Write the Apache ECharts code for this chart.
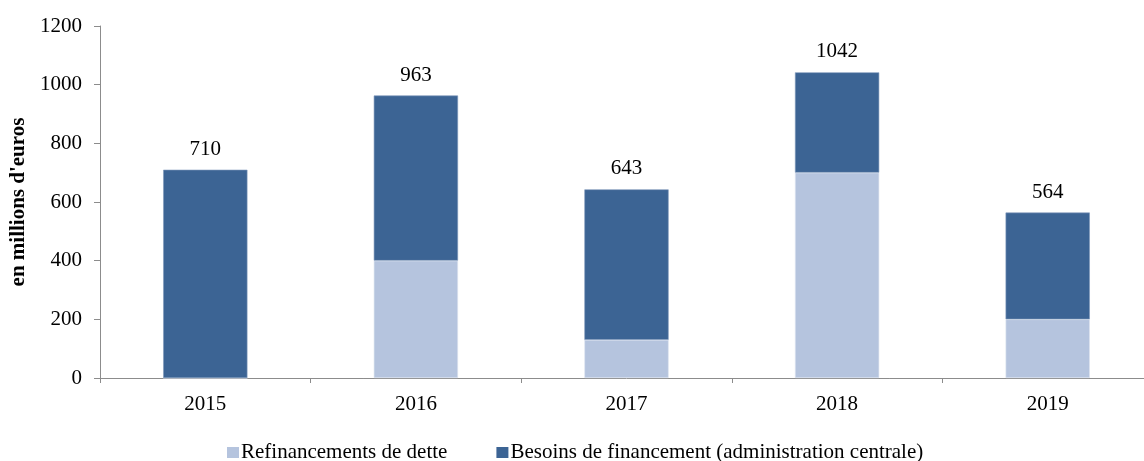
<!DOCTYPE html>
<html>
<head>
<meta charset="utf-8">
<script src="https://cdn.jsdelivr.net/npm/echarts@6/dist/echarts.min.js"></script>
<style>
  html, body { margin: 0; padding: 0; background: #fff; overflow: hidden; }
  #chart { width: 1153px; height: 461px; }
</style>
</head>
<body>
<div id="chart"></div>
<script>
// Années
const years = ['2015', '2016', '2017', '2018', '2019'];
// Refinancements de dette (millions d'euros)
const refinancements = [0, 400, 130, 700, 200];
// Besoins de financement de l'administration centrale (millions d'euros)
const besoins = [710, 563, 513, 342, 364];
// Graduations de l'axe vertical
const yTicks = [0, 200, 400, 600, 800, 1000, 1200];

const totals = years.map((_, i) => refinancements[i] + besoins[i]);

const font = '"Liberation Serif", "Times New Roman", serif';
const fs = 21;
const chart = echarts.init(document.getElementById('chart'), null, { renderer: 'canvas' });

chart.setOption({
  animation: false,
  textStyle: { fontFamily: font, color: '#000' },
  grid: { left: 100, right: 0, top: 26, bottom: 83 },
  legend: {
    top: 442,
    left: 227,
    padding: 0,
    itemWidth: 12,
    itemHeight: 11,
    itemGap: 49,
    icon: 'rect',
    itemStyle: { borderWidth: 0 },
    textStyle: { fontFamily: font, fontSize: fs, color: '#000', padding: [0, 0, 0, -3] },
    data: ['Refinancements de dette', 'Besoins de financement (administration centrale)']
  },
  xAxis: {
    type: 'category',
    data: years,
    axisLine: { lineStyle: { color: '#8c8c8c', width: 1 } },
    axisTick: { show: true, alignWithLabel: false, length: 5, lineStyle: { color: '#8c8c8c' } },
    axisLabel: { fontFamily: font, fontSize: fs, color: '#000', margin: 16 }
  },
  yAxis: {
    type: 'value',
    min: yTicks[0],
    max: yTicks[yTicks.length - 1],
    interval: 200,
    name: "en millions d'euros",
    nameLocation: 'middle',
    nameGap: 70,
    nameTextStyle: { fontFamily: font, fontSize: 21, fontWeight: 'bold', color: '#000' },
    axisLine: { show: true, lineStyle: { color: '#8c8c8c', width: 1 } },
    axisTick: { show: true, length: 6, lineStyle: { color: '#8c8c8c' } },
    axisLabel: { fontFamily: font, fontSize: fs, color: '#000', margin: 18, formatter: v => String(v) },
    splitLine: { show: false }
  },
  series: [
    {
      name: 'Refinancements de dette',
      type: 'bar',
      stack: 'total',
      barWidth: '40%',
      data: refinancements,
      itemStyle: { color: '#b5c4de', borderColor: '#dde4f0', borderWidth: 0.6 }
    },
    {
      name: 'Besoins de financement (administration centrale)',
      type: 'bar',
      stack: 'total',
      data: besoins,
      itemStyle: { color: '#3c6494', borderColor: '#7d97bb', borderWidth: 0.6 },
      label: {
        show: true,
        position: 'top',
        distance: 10,
        fontFamily: font,
        fontSize: fs,
        color: '#000',
        formatter: p => String(totals[p.dataIndex])
      }
    }
  ]
});
</script>
</body>
</html>
